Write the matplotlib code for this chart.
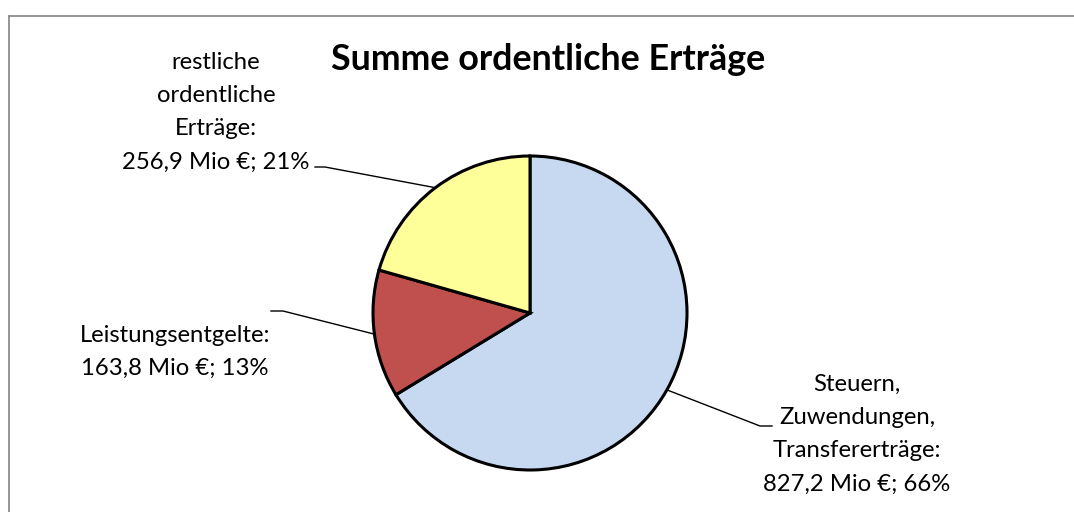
import numpy as np
import matplotlib
matplotlib.use("Agg")
import matplotlib.pyplot as plt
from matplotlib.lines import Line2D

plt.rcParams['font.family'] = ['Lato', 'DejaVu Sans']

title = "Summe ordentliche Erträge"
categories = ["Steuern,\nZuwendungen,\nTransfererträge:", "Leistungsentgelte:", "restliche\nordentliche\nErträge:"]
values = [827.2, 163.8, 256.9]
percents = ["66%", "13%", "21%"]
colors = ["#C6D9F1", "#C0504D", "#FFFF99"]

W, H = 1074, 512
fig = plt.figure(figsize=(W / 100, H / 100), dpi=100)
ax = fig.add_axes([0, 0, 1, 1])

cx, cy, r = 530, H - 313, 157
wedges, _ = ax.pie(values, colors=colors, startangle=90, counterclock=False,
                   center=(cx, cy), radius=r,
                   wedgeprops=dict(edgecolor="black", linewidth=2.2))
ax.set_xlim(0, W)
ax.set_ylim(0, H)
ax.set_aspect('equal')
ax.axis('off')

# label layout (pixel positions, y from top)
label_pos = [(857, 434), (175, 352), (216, 112)]
elbows = [((760, 426), (772, 426)), ((283, 311), (271, 311)), ((325, 167), (315, 167))]

for w, cat, v, p, (lx, ly), (e1, e2) in zip(wedges, categories, values, percents, label_pos, elbows):
    ang = np.deg2rad((w.theta1 + w.theta2) / 2)
    ax_ = cx + r * np.cos(ang)
    ay_ = cy + r * np.sin(ang)
    txt = f"{cat}\n{v:.1f}".replace(".", ",") + f" Mio €; {p}"
    ax.text(lx, H - ly, txt, ha="center", va="center", fontsize=17.2,
            linespacing=1.72, color="black")
    ax.add_line(Line2D([ax_, e1[0], e2[0]], [ay_, H - e1[1], H - e2[1]],
                       color="black", linewidth=1.0))

ax.text(548, H - 60, title, ha="center", va="center", fontsize=25.8,
        fontweight="bold", color="black")

# chart frame
fig.add_artist(Line2D([9 / W, 1], [1 - 16 / H, 1 - 16 / H], color="#8C8C8C",
                      linewidth=1.3, transform=fig.transFigure))
fig.add_artist(Line2D([9 / W, 9 / W], [0, 1 - 16 / H], color="#8C8C8C",
                      linewidth=1.3, transform=fig.transFigure))

fig.savefig("out.png", dpi=100)
